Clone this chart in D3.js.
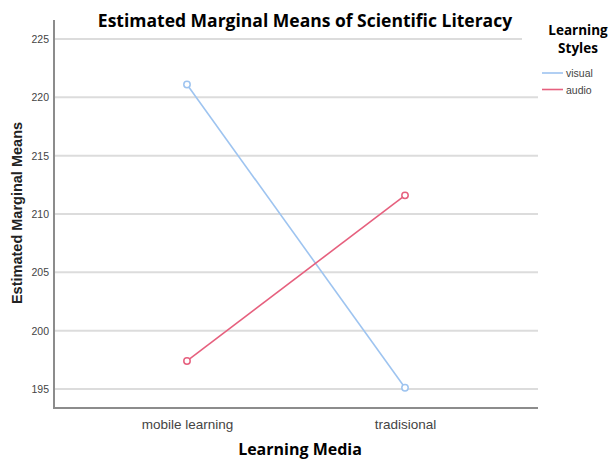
<!DOCTYPE html>
<html>
<head>
<meta charset="utf-8">
<script src="https://cdn.jsdelivr.net/npm/d3@7"></script>
<style>
  body { margin: 0; background: #fff; }
  svg { display: block; }
</style>
</head>
<body>
<div id="chart"></div>
<script>
var width = 613, height = 459;

// data
var media = ['mobile learning', 'tradisional'];
var styles = ['visual', 'audio'];
var visual = [221.1, 195.1];
var audio = [197.4, 211.6];
var yTicks = [195, 200, 205, 210, 215, 220, 225];
var legendTitle = ['Learning', 'Styles'];

var colors = { visual: '#9ec4f0', audio: '#e6607e' };
var seriesValues = { visual: visual, audio: audio };

var margin = { top: 20, right: 75, bottom: 51, left: 54 };
var plotW = width - margin.left - margin.right;
var plotH = height - margin.top - margin.bottom;

var narrow = '"Liberation Sans Narrow", "Arial Narrow", "Liberation Sans", sans-serif';

var svg = d3.select('#chart')
  .append('svg')
  .attr('width', width)
  .attr('height', height);

var g = svg.append('g')
  .attr('transform', 'translate(' + margin.left + ',' + margin.top + ')');

var x = d3.scalePoint()
  .domain(media)
  .range([0, plotW])
  .padding(0.61);

var y = d3.scaleLinear()
  .domain([193.37, 226.63])
  .range([plotH, 0]);

// gridlines
g.selectAll('.grid')
  .data(yTicks)
  .enter()
  .append('line')
  .attr('class', 'grid')
  .attr('x1', 0)
  .attr('x2', function(d) { return d === 225 ? plotW - 16 : plotW; })
  .attr('y1', function(d) { return y(d); })
  .attr('y2', function(d) { return y(d); })
  .attr('stroke', '#dcdcdc')
  .attr('stroke-width', 2);

// y axis
var yAxis = g.append('g')
  .call(d3.axisLeft(y).tickValues(yTicks).tickSize(0).tickPadding(5));
yAxis.select('.domain').remove();
yAxis.selectAll('text')
  .attr('font-family', narrow)
  .attr('font-size', 10.5)
  .attr('fill', '#444');

// x axis
var xAxis = g.append('g')
  .attr('transform', 'translate(0,' + plotH + ')')
  .call(d3.axisBottom(x).tickSize(0).tickPadding(11));
xAxis.select('.domain').remove();
xAxis.selectAll('text')
  .attr('font-family', narrow)
  .attr('font-size', 13.5)
  .attr('fill', '#444');

// axis lines
g.append('path')
  .attr('d', 'M0,0V' + plotH + 'H' + plotW)
  .attr('fill', 'none')
  .attr('stroke', '#8c8c8c')
  .attr('stroke-width', 2);

// lines and markers
var line = d3.line()
  .x(function(d, i) { return x(media[i]); })
  .y(function(d) { return y(d); });

styles.forEach(function(s) {
  g.append('path')
    .datum(seriesValues[s])
    .attr('d', line)
    .attr('fill', 'none')
    .attr('stroke', colors[s])
    .attr('stroke-width', 1.6);

  g.selectAll('.pt-' + s)
    .data(seriesValues[s])
    .enter()
    .append('circle')
    .attr('cx', function(d, i) { return x(media[i]); })
    .attr('cy', function(d) { return y(d); })
    .attr('r', 3.2)
    .attr('fill', '#fff')
    .attr('stroke', colors[s])
    .attr('stroke-width', 1.5);
});

// title
svg.append('text')
  .attr('x', 305)
  .attr('y', 27)
  .attr('text-anchor', 'middle')
  .attr('font-family', '"Open Sans", "Noto Sans", sans-serif')
  .attr('font-weight', 'bold')
  .attr('font-size', 17.5)
  .attr('fill', '#000')
  .text('Estimated Marginal Means of Scientific Literacy');

// axis titles
svg.append('text')
  .attr('transform', 'translate(22,' + (margin.top + plotH / 2 - 1) + ') rotate(-90)')
  .attr('text-anchor', 'middle')
  .attr('font-family', '"Liberation Sans", Arial, sans-serif')
  .attr('font-weight', 'bold')
  .attr('font-size', 14.5)
  .attr('fill', '#222')
  .text('Estimated Marginal Means');

svg.append('text')
  .attr('x', 300)
  .attr('y', 455)
  .attr('text-anchor', 'middle')
  .attr('font-family', '"Open Sans", "Noto Sans", sans-serif')
  .attr('font-weight', 'bold')
  .attr('font-size', 16)
  .attr('fill', '#000')
  .text('Learning Media');

// legend
var legend = svg.append('g');
legend.selectAll('.ltitle')
  .data(legendTitle)
  .enter()
  .append('text')
  .attr('class', 'ltitle')
  .attr('x', 578)
  .attr('y', function(d, i) { return 35 + i * 18; })
  .attr('text-anchor', 'middle')
  .attr('font-family', '"Open Sans", "Noto Sans", sans-serif')
  .attr('font-weight', 'bold')
  .attr('font-size', 13.5)
  .text(function(d) { return d; });

var items = legend.selectAll('.item')
  .data(styles)
  .enter()
  .append('g')
  .attr('transform', function(d, i) { return 'translate(542,' + (73 + i * 16.5) + ')'; });

items.append('line')
  .attr('x1', 0)
  .attr('x2', 21)
  .attr('stroke', function(d) { return colors[d]; })
  .attr('stroke-width', 1.6);

items.append('text')
  .attr('x', 24)
  .attr('y', 4)
  .attr('font-family', narrow)
  .attr('font-size', 10.5)
  .attr('fill', '#444')
  .text(function(d) { return d; });
</script>
</body>
</html>
